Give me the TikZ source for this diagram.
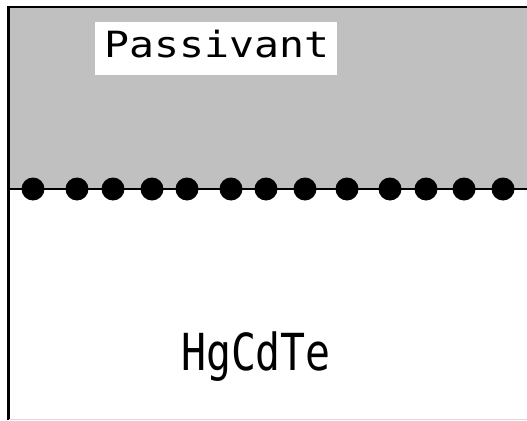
\documentclass[tikz,border=0pt]{standalone}
\usepackage{fontspec}
\newfontfamily\monofont{DejaVu Sans Mono}
\definecolor{passgray}{HTML}{C0C0C0}
\begin{document}
\begin{tikzpicture}[x=1pt,y=-1pt,
  dotnode/.style={circle,fill=black,inner sep=0pt,minimum size=23pt},
  labeltext/.style={inner sep=0pt,anchor=base,font=\monofont\fontsize{41.5}{41.5}\selectfont}]
\useasboundingbox (0,0) rectangle (527,420);
\fill[white] (0,0) rectangle (527,420);
% passivant layer
\fill[passgray] (8.5,7) rectangle (527,189);
% borders
\draw[line width=2.2pt] (8.5,420) -- (8.5,7) -- (527,7);
\draw[line width=0.6pt,black!15] (8.5,419) -- (527,419);
% interface line
\coordinate (il) at (8.5,189);
\coordinate (ir) at (527,189);
\draw[line width=2pt] (il) -- (ir);
% interface dots
\foreach \x [count=\i] in {33,77,113,152,187,231,266,305,347,390,426,464,503}
  \node[dotnode] (d\i) at (\x,189) {};
% labels
\fill[white] (95,22) rectangle (337,75);
\node[labeltext] (pass) at (217,58) {\scalebox{1}[0.87]{Passivant}};
\node[labeltext] (hgcdte) at (256,370) {\scalebox{1}[1.23]{HgCdTe}};
\end{tikzpicture}
\end{document}
